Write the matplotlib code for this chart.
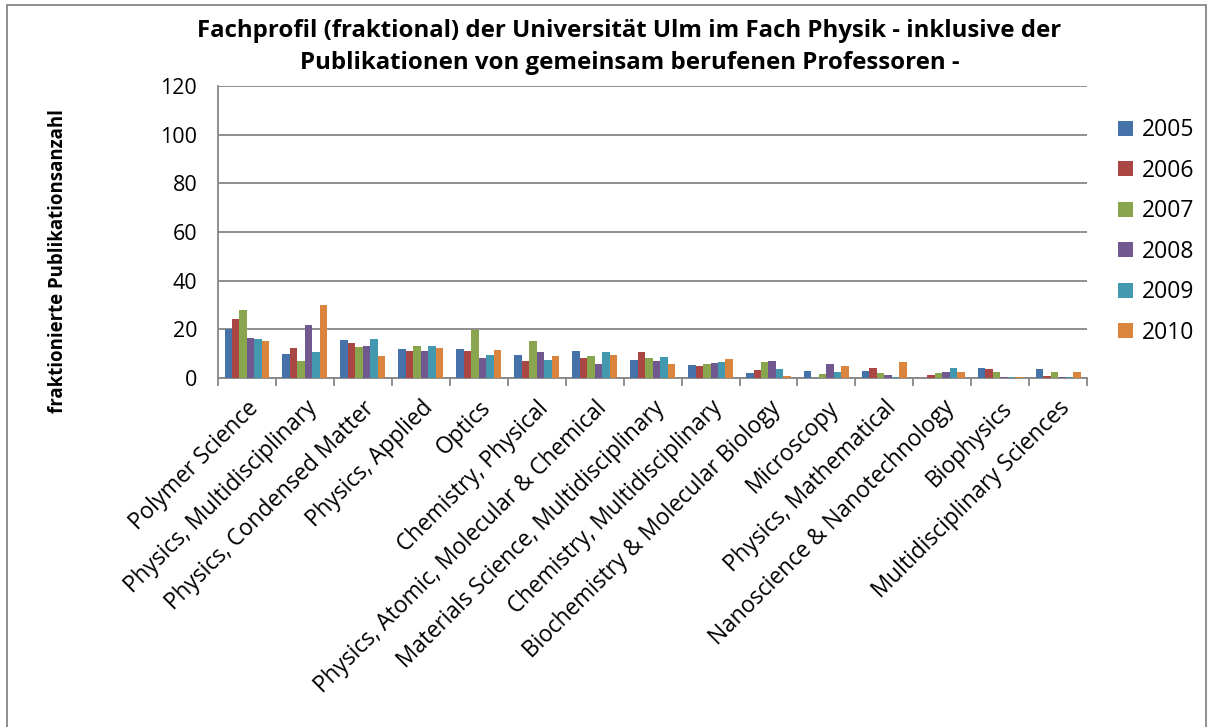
import matplotlib.pyplot as plt
import numpy as np
from matplotlib.patches import Rectangle

plt.rcParams["font.family"] = ["Open Sans", "DejaVu Sans"]

categories = [
    "Polymer Science",
    "Physics, Multidisciplinary",
    "Physics, Condensed Matter",
    "Physics, Applied",
    "Optics",
    "Chemistry, Physical",
    "Physics, Atomic, Molecular & Chemical",
    "Materials Science, Multidisciplinary",
    "Chemistry, Multidisciplinary",
    "Biochemistry & Molecular Biology",
    "Microscopy",
    "Physics, Mathematical",
    "Nanoscience & Nanotechnology",
    "Biophysics",
    "Multidisciplinary Sciences",
]
years = ["2005", "2006", "2007", "2008", "2009", "2010"]

v2005 = [20.3, 9.7, 15.8, 11.9, 11.9, 9.4, 11.3, 7.6, 5.3, 1.9, 2.9, 2.9, 0.0, 4.0, 3.6]
v2006 = [24.3, 12.4, 14.6, 11.0, 11.0, 7.1, 8.2, 10.8, 4.9, 3.1, 0.0, 4.2, 1.1, 3.75, 0.7]
v2007 = [27.9, 6.8, 12.9, 13.2, 19.6, 15.4, 9.0, 8.3, 5.7, 6.7, 1.7, 2.1, 2.1, 2.5, 2.5]
v2008 = [16.3, 21.9, 13.1, 11.3, 8.3, 10.8, 5.7, 7.1, 6.1, 6.9, 5.7, 1.1, 2.6, 0.3, 0.4]
v2009 = [16.1, 10.8, 16.1, 13.3, 9.6, 7.6, 10.6, 8.6, 6.7, 3.6, 2.5, 0.4, 4.2, 0.3, 0.55]
v2010 = [15.3, 29.9, 9.0, 12.5, 11.7, 9.2, 9.6, 5.8, 7.8, 0.8, 5.1, 6.7, 2.5, 0.3, 2.5]

series = [v2005, v2006, v2007, v2008, v2009, v2010]
colors = ["#4672AA", "#AA4643", "#89A54E", "#71588F", "#4198AF", "#DB843D"]

fig = plt.figure(figsize=(12.13, 7.27), dpi=100)
ax = fig.add_axes([0.1797, 0.480, 0.7166, 0.4017])

x = np.arange(len(categories))
bar_w = 0.129
for i, (vals, year) in enumerate(zip(series, years)):
    offset = (i - 2.5) * bar_w
    ax.bar(x + offset, vals, width=bar_w, color=colors[i], label=year, zorder=3)

ax.set_xlim(-0.5, len(categories) - 0.5)
ax.set_ylim(0, 120)
ax.set_yticks(np.arange(0, 121, 20))
ax.tick_params(axis="y", labelsize=15.5, length=0, pad=15)
ax.yaxis.grid(True, color="#868686", linewidth=1.3, zorder=0)

ax.set_xticks(x)
ax.set_xticklabels(categories, rotation=45, ha="right", va="top", rotation_mode="anchor", fontsize=16.3)
ax.tick_params(axis="x", which="major", length=0, pad=13)
ax.set_xticks(np.arange(-0.5, len(categories)), minor=True)
ax.tick_params(axis="x", which="minor", length=6, color="#868686", width=1.3)

for side in ["top", "right"]:
    ax.spines[side].set_visible(False)
for side in ["left", "bottom"]:
    ax.spines[side].set_color("#868686")
    ax.spines[side].set_linewidth(1.3)

fig.text(0.048, 0.641, "fraktionierte Publikationsanzahl", rotation=90, ha="center", va="center",
         fontsize=13.4, fontweight="bold")
fig.text(0.519, 0.957, "Fachprofil (fraktional) der Universität Ulm im Fach Physik - inklusive der",
         ha="center", va="center", fontsize=17.3, fontweight="bold")
fig.text(0.519, 0.913, "Publikationen von gemeinsam berufenen Professoren -",
         ha="center", va="center", fontsize=17.3, fontweight="bold")

ax.legend(loc="upper left", bbox_to_anchor=(1.012, 0.96), frameon=False, fontsize=16.5,
          handlelength=0.65, handleheight=0.65, handletextpad=0.4, labelspacing=0.72)

fig.patches.append(Rectangle((0.006, -0.05), 0.988, 1.043, transform=fig.transFigure,
                             fill=False, edgecolor="#868686", linewidth=1.3))

fig.savefig("out.png", dpi=100)
